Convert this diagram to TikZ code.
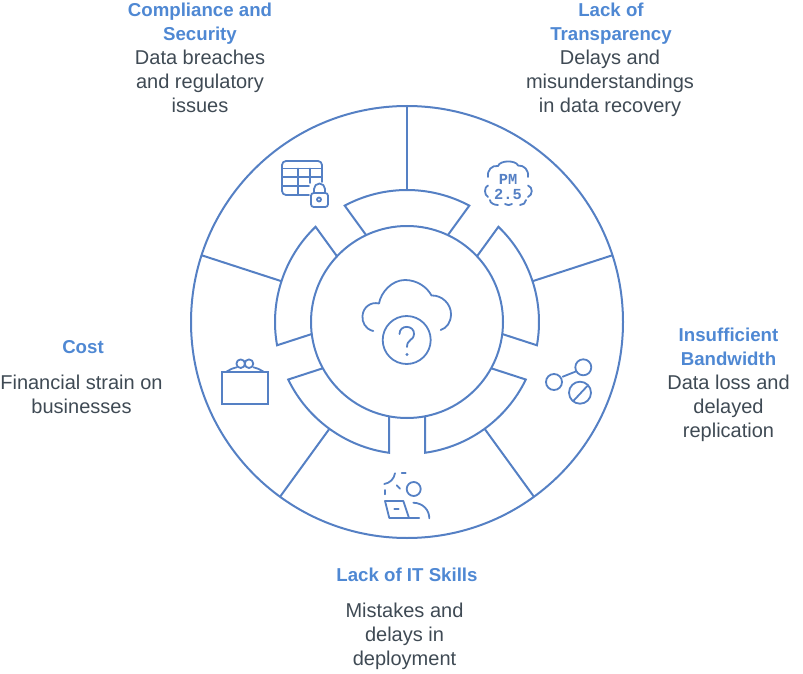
\documentclass[tikz,border=0pt]{standalone}
\usepackage{fontspec}
\setmainfont{Liberation Sans}
\newfontfamily\iconmono{Liberation Mono}
\definecolor{wheel}{HTML}{5580C4}
\definecolor{titlec}{HTML}{4F88D3}
\definecolor{bodyc}{HTML}{3F4A54}
\tikzset{
  wheelline/.style={draw=wheel,line width=1.5pt,line join=miter},
  iconline/.style={draw=wheel,line width=1.35pt,line cap=round,line join=round},
  titletext/.style={text=titlec,align=center,inner sep=0pt,font=\fontsize{14pt}{18pt}\selectfont\bfseries,anchor=base},
  bodytext/.style={text=bodyc,align=center,inner sep=0pt,font=\fontsize{15pt}{18pt}\selectfont,anchor=base},
  pmtext/.style={text=wheel,inner sep=0pt,anchor=base,font=\fontsize{11.5pt}{11.5pt}\selectfont\iconmono\bfseries},
}
\begin{document}
\begin{tikzpicture}[x=0.75pt,y=0.75pt]
\useasboundingbox (0,-674) rectangle (803,0);
% wheel
\begin{scope}[shift={(407,-322)}]
  \draw[wheelline] (0,0) circle[radius=216];
  \draw[wheelline] (0,0) circle[radius=96];
  \foreach \c in {90,162,234,306,378}{
    \pgfmathsetmacro{\ao}{asin(18/132)}
    \pgfmathsetmacro{\ai}{asin(18/96)}
    \pgfmathsetmacro{\sa}{\c-36+\ao}
    \pgfmathsetmacro{\ea}{\c+36-\ao}
    \draw[wheelline] ({\c-36+\ai}:96) -- (\sa:132) arc[start angle=\sa,end angle=\ea,radius=132] -- ({\c+36-\ai}:96);
  }
  \foreach \a in {90,18,-54,-126,162}
    \draw[wheelline] (\a:132) -- (\a:216);
\end{scope}
% centre cloud icon
\draw[iconline] (373.3,-331) .. controls (365,-329) and (362,-322) .. (362.5,-316) .. controls (363,-307) and (371,-301.5) .. (379,-303.5) .. controls (381,-292) and (392,-280) .. (405,-280) .. controls (417,-280) and (427,-287) .. (431.5,-295.5) .. controls (442,-295) and (451,-304) .. (451,-314) .. controls (451,-322) and (447,-328) .. (440.7,-330);
\draw[iconline] (406.7,-340) circle[radius=24];
\draw[iconline] (399.5,-334) .. controls (399.5,-324) and (414.5,-325) .. (414,-334) .. controls (413.5,-341) and (407,-339) .. (407,-347);
\fill[wheel] (407,-354.5) circle[radius=1.7];
% table and lock icon
\draw[iconline] (322,-182) -- (322,-165) arc[start angle=0,end angle=90,radius=4] -- (286,-161) arc[start angle=90,end angle=180,radius=4] -- (282,-191) arc[start angle=180,end angle=270,radius=4] -- (309,-195);
\draw[iconline] (282,-168.5) -- (322,-168.5);
\draw[iconline] (282,-177) -- (322,-177);
\draw[iconline] (282,-186) -- (309,-186);
\draw[iconline] (298,-168.5) -- (298,-195);
\draw[iconline] (310,-168.5) -- (310,-183);
\draw[iconline,rounded corners=2pt] (311,-193) rectangle (328,-207);
\draw[iconline] (314,-193) -- (314,-189) arc[start angle=180,end angle=0,radius=5.5] -- (325,-193);
\draw[iconline] (319,-199.5) circle[radius=2];
% PM2.5 icon
\draw[iconline] (488,-177) .. controls (487,-170) and (492,-165) .. (498,-166) .. controls (500,-160) and (516,-160) .. (518,-165.5);
\draw[iconline] (518,-165.5) .. controls (524,-165) and (529,-170) .. (528,-177);
\draw[iconline] (528,-185.5) .. controls (533,-187) and (533,-195) .. (528,-197);
\draw[iconline] (526,-200) .. controls (526,-203) and (523,-205) .. (520,-205);
\draw[iconline] (505,-204) .. controls (507,-205.5) and (510,-205.5) .. (512,-204);
\draw[iconline] (498,-205) .. controls (494,-205) and (490,-203) .. (490,-200);
\draw[iconline] (488,-197) .. controls (484,-195) and (484,-187) .. (488,-185.5);
\node[pmtext] (pmtext) at (508,-184) {PM};
\node[pmtext] (twofive) at (508,-199) {2.5};
% bandwidth icon
\draw[iconline] (554,-382) circle[radius=8];
\draw[iconline] (583.3,-367.3) circle[radius=8];
\draw[iconline] (562.7,-376.7) -- (575.3,-371.7);
\draw[iconline] (580,-392.7) circle[radius=11];
\draw[iconline] (573.3,-401) -- (587.3,-386);
% person and laptop icon
\draw[iconline] (413.7,-489) circle[radius=7];
\draw[iconline] (413.3,-502.7) .. controls (423,-503) and (429.3,-510) .. (429.3,-518.3);
\draw[iconline] (419.3,-518) -- (389.3,-518) -- (385,-501) -- (403.3,-501) -- (409,-518);
\draw[iconline] (394.3,-509.3) -- (398.7,-509.3);
\draw[iconline] (395,-473.3) .. controls (394,-479) and (390,-483) .. (384.3,-484);
\draw[iconline] (401.7,-473.3) -- (405.7,-473.3);
\draw[iconline] (396.7,-485.3) -- (400,-488.7);
\draw[iconline] (385,-490) -- (385,-494.3);
% cost icon
\draw[iconline,line width=1.5pt,line join=miter] (222,-372) rectangle (268,-403.7);
\draw[iconline] (240.7,-363.7) circle[radius=4.3];
\draw[iconline] (249,-363.7) circle[radius=4.3];
\draw[iconline] (226.7,-371.5) .. controls (230,-369.5) and (233,-368) .. (236.5,-367.3);
\draw[iconline] (263.3,-371.5) .. controls (260,-369.5) and (257,-368) .. (253.5,-367.3);
% labels (node base = baseline of the last line)
\node[titletext] (t1) at (200,-41) {Compliance and\\Security};
\node[bodytext] (b1) at (200,-113) {Data breaches\\and regulatory\\issues};
\node[titletext] (t2) at (611,-41) {Lack of\\Transparency};
\node[bodytext] (b2) at (610,-113) {Delays and\\misunderstandings\\in data recovery};
\node[titletext] (t3) at (728.5,-365) {Insufficient\\Bandwidth};
\node[bodytext] (b3) at (728.5,-437) {Data loss and\\delayed\\replication};
\node[titletext] (t4) at (83,-353) {Cost};
\node[bodytext] (b4) at (81.5,-413) {Financial strain on\\businesses};
\node[titletext] (t5) at (407,-581) {Lack of IT Skills};
\node[bodytext] (b5) at (404.5,-665) {Mistakes and\\delays in\\deployment};
\end{tikzpicture}
\end{document}
